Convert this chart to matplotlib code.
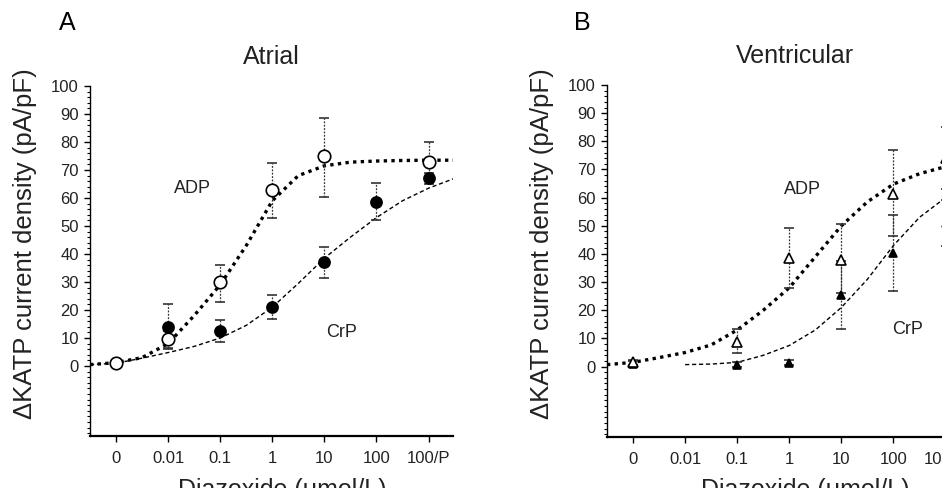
import numpy as np
import matplotlib
matplotlib.use("Agg")
import matplotlib.pyplot as plt

plt.rcParams['font.family'] = ['Liberation Sans', 'DejaVu Sans']

# categories on the x axis (equally spaced)
dose_labels = ['0', '0.01', '0.1', '1', '10', '100', '100/P']
nan = np.nan

# Panel A - atrial
atr_adp = [1, 9.5, 30, 63, 75, nan, 73]
atr_adp_lo = [1, 3, 7, 10, 14.5, nan, 7]
atr_adp_hi = [1, 3, 6, 9.5, 13.5, nan, 7]
atr_crp = [1, 14, 12.5, 21, 37, 58.7, 67]
atr_crp_err = [1, 8, 4, 4.3, 5.5, 6.5, 2]

# Panel B - ventricular
ven_adp = [1.5, nan, 8.8, 38.7, 38, 61.3, 74]
ven_adp_lo = [1, nan, 3.9, 10.9, 12, 14.8, 11]
ven_adp_hi = [1, nan, 4.6, 10.6, 12.7, 15.7, 11]
ven_crp = [1, nan, 0.7, 1.4, 25.4, 40.5, 51]
ven_crp_err = [1, nan, 1, 1, 12, 13.5, 8]

# fitted curves (x in category units)
fit_x = [-0.5, 0, 0.5, 1, 1.5, 2, 2.5, 3, 3.5, 4, 4.5, 5, 5.5, 6, 6.47]
atr_adp_fit = [0.5, 1.2, 3, 8, 18, 29, 43, 59, 68, 71.5, 72.8, 73.2, 73.4, 73.5, 73.5]
atr_crp_fit = [0.5, 1, 2.8, 4.8, 7, 10, 14.5, 21, 29.5, 38.5, 46, 53, 59, 63.5, 66.8]
ven_adp_fit = [0.7, 1.5, 3.2, 5, 7.7, 13, 20, 28, 39, 50, 58.5, 64.8, 68.5, 71, 72.5]
ven_crp_fit_x = [1, 1.5, 2, 2.5, 3, 3.5, 4, 4.5, 5, 5.5, 6, 6.47]
ven_crp_fit = [0.7, 0.9, 1.5, 4, 7.5, 13, 21, 31, 43, 53, 60, 65]


def draw_errs(ax, x, y, lo, hi, marker, face, ms):
    eb = ax.errorbar(x, y, yerr=[lo, hi], fmt=marker, ms=ms, mfc=face, mec='black',
                     mew=1.2, ecolor='#333333', elinewidth=0.9, capsize=3.8,
                     capthick=1.0, zorder=3)
    eb[2][0].set_linestyle((0, (1.5, 1.2)))
    return eb


def style_axis(ax):
    ax.set_xlim(-0.5, 6.47)
    ax.set_ylim(-25, 100)
    ax.spines['top'].set_visible(False)
    ax.spines['right'].set_visible(False)
    ax.spines['left'].set_linewidth(1.0)
    ax.spines['bottom'].set_linewidth(1.6)
    ax.set_yticks(range(0, 101, 10))
    ax.set_yticks(np.arange(-24, 101, 2), minor=True)
    ax.set_xticks(range(len(dose_labels)))
    ax.set_xticklabels(dose_labels)
    ax.tick_params(axis='y', which='major', length=4, width=1, pad=4, labelsize=12,
                   labelcolor='#222222')
    ax.tick_params(axis='y', which='minor', length=2, width=0.8)
    ax.tick_params(axis='x', length=4, width=1, pad=7, labelsize=12, labelcolor='#222222')


fig = plt.figure(figsize=(9.42, 4.88), dpi=100)
ax_a = fig.add_axes([90 / 942, 1 - 436 / 488, 363 / 942, 350 / 488])
ax_b = fig.add_axes([607 / 942, 1 - 437 / 488, 363 / 942, 352 / 488])

pos = np.arange(len(dose_labels))

# A
ax_a.plot(fit_x, atr_adp_fit, color='black', lw=2.4, ls=(0, (1, 1.3)), zorder=2)
ax_a.plot(fit_x, atr_crp_fit, color='black', lw=1.0, ls=(0, (3, 2)), zorder=2)
draw_errs(ax_a, pos, atr_crp, atr_crp_err, atr_crp_err, 'o', 'black', 8)
draw_errs(ax_a, pos, atr_adp, atr_adp_lo, atr_adp_hi, 'o', 'white', 9)
ax_a.text(1.46, 63.5, 'ADP', fontsize=13, ha='center', va='center', color='#222222')
ax_a.text(4.33, 12, 'CrP', fontsize=13, ha='center', va='center', color='#222222')
style_axis(ax_a)
ax_a.text(0.5, 1.083, 'Atrial', transform=ax_a.transAxes, fontsize=18,
          ha='center', va='center', color='#222222')

# B
ax_b.plot(fit_x, ven_adp_fit, color='black', lw=2.4, ls=(0, (1, 1.3)), zorder=2)
ax_b.plot(ven_crp_fit_x, ven_crp_fit, color='black', lw=1.0, ls=(0, (3, 2)), zorder=2)
draw_errs(ax_b, pos, ven_crp, ven_crp_err, ven_crp_err, '^', 'black', 6)
draw_errs(ax_b, pos, ven_adp, ven_adp_lo, ven_adp_hi, '^', 'white', 6.5)
ax_b.text(3.25, 63, 'ADP', fontsize=13, ha='center', va='center', color='#222222')
ax_b.text(5.27, 13, 'CrP', fontsize=13, ha='center', va='center', color='#222222')
style_axis(ax_b)
ax_b.text(0.518, 1.083, 'Ventricular', transform=ax_b.transAxes, fontsize=18,
          ha='center', va='center', color='#222222')

# labels and panel letters (the original figure is cropped at the right and bottom)
ylab = 'ΔKATP current density (pA/pF)'
fig.text(25 / 942, 1 - 244 / 488, ylab, rotation=90, fontsize=18.5, ha='center',
         va='center', color='#222222')
fig.text(542 / 942, 1 - 244 / 488, ylab, rotation=90, fontsize=18.5, ha='center',
         va='center', color='#222222')
fig.text(282 / 942, 1 - 478 / 488, 'Diazoxide (μmol/L)', fontsize=18, ha='center',
         va='top', color='#222222')
fig.text(805 / 942, 1 - 478 / 488, 'Diazoxide (μmol/L)', fontsize=18, ha='center',
         va='top', color='#222222')
fig.text(67 / 942, 1 - 23 / 488, 'A', fontsize=18, ha='center', va='center')
fig.text(582 / 942, 1 - 23 / 488, 'B', fontsize=18, ha='center', va='center')

fig.savefig('out.png', dpi=100)
